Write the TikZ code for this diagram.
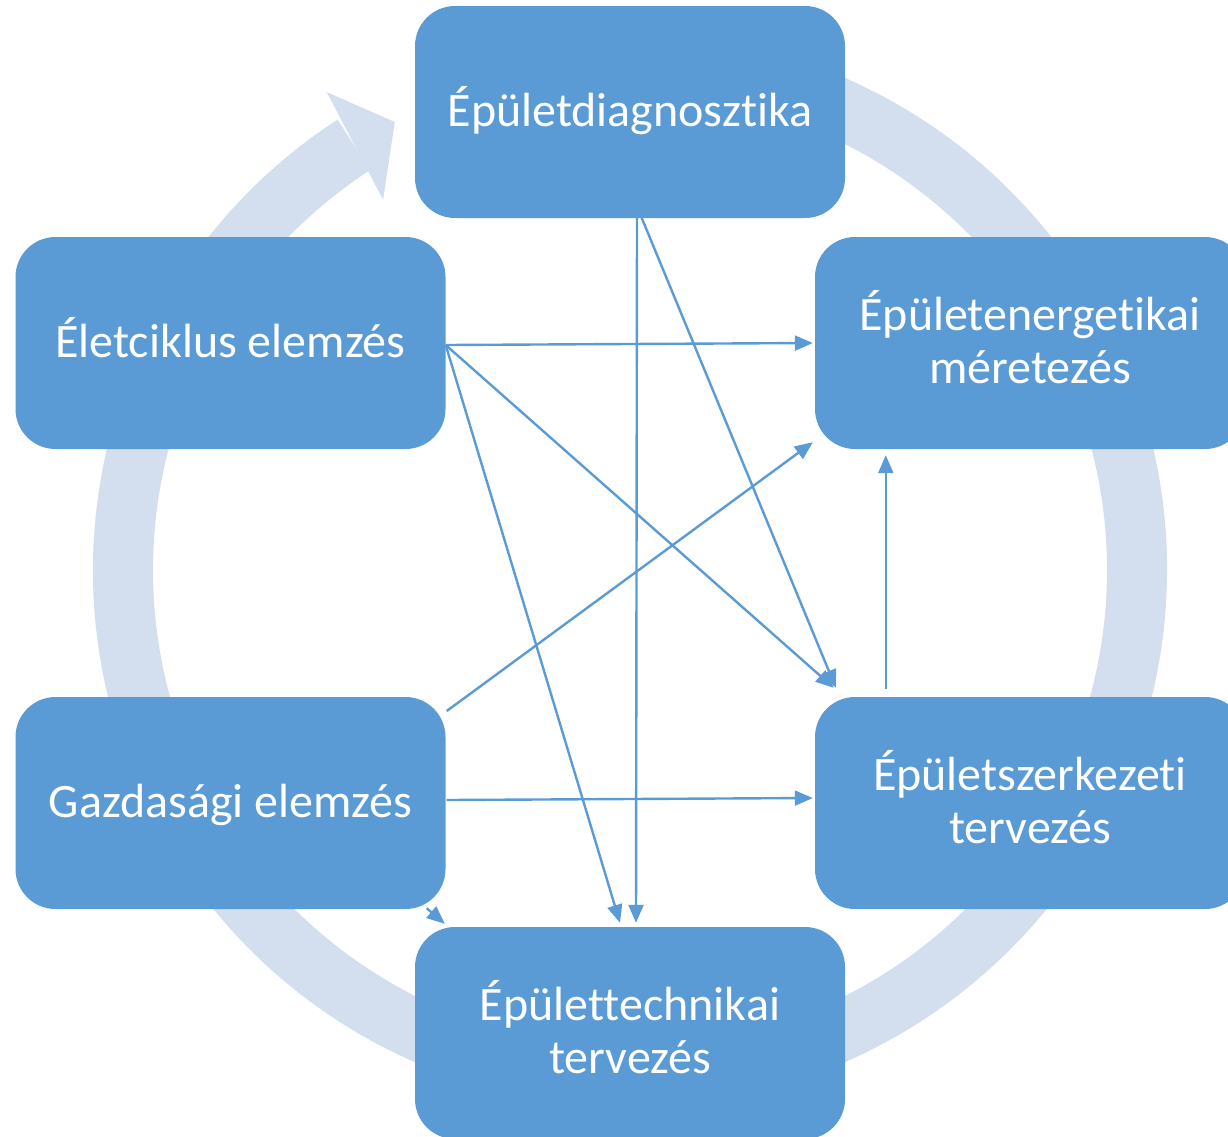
\documentclass[tikz,border=0pt]{standalone}
\usepackage{fontspec}
\setmainfont{Carlito}[Ligatures=NoCommon]
\usetikzlibrary{arrows.meta}
\definecolor{boxblue}{RGB}{91,155,213}
\definecolor{ringblue}{RGB}{211,222,239}
\newcommand\topstrut{\rule[-15.9pt]{0pt}{60pt}}
\newcommand\botstrut{\rule[-15.9pt]{0pt}{15.9pt}}
\begin{document}
\begin{tikzpicture}[x=1pt,y=-1pt,
  box/.style={fill=boxblue, draw=none, rounded corners=40pt, minimum width=430pt, minimum height=212pt,
    text=white, align=center, font=\fontsize{48}{53}\selectfont, inner sep=0pt},
  conn/.style={draw=boxblue, line width=2.4pt, -{Triangle[length=18pt,width=15pt]}}]
\useasboundingbox (0,0) rectangle (1228,1136);
\clip (0,0) rectangle (1228,1136);
% ring
\begin{scope}[shift={(630,570)}, y=1pt]
  \fill[ringblue] (123:537) arc[start angle=123, end angle=450, radius=537]
     -- (450:477) arc[start angle=450, end angle=123, radius=477] -- cycle;
  \fill[ringblue] (122.4:566) -- (117.7:506) -- (123.7:445) -- cycle;
\end{scope}
% boxes
\node[box] (top) at (630,112) {\topstrut Épületdiagnosztika};
\node[box] (life) at (230.5,343) {\topstrut Életciklus elemzés};
\node[box] (ener) at (1030,343) {\topstrut Épületenergetikai\\méretezés\botstrut};
\node[box] (gazd) at (230.5,803) {\topstrut Gazdasági elemzés};
\node[box] (szerk) at (1030,803) {\topstrut Épületszerkezeti\\tervezés\botstrut};
\node[box] (tech) at (630,1033) {\topstrut Épülettechnikai\\tervezés\botstrut};
% connectors
\draw[conn] ([yshift=-2]life.east) -- ([xshift=-2]ener.west);
\draw[conn] ([yshift=-2]life.east) -- ([shift={(19,-9)}]szerk.north west);
\draw[conn] ([yshift=-2]life.east) -- ([shift={(-10,-4)}]tech.north);
\draw[conn] ([xshift=7,yshift=2]top.south) -- ([shift={(6,-4)}]tech.north);
\draw[conn] ([xshift=11,yshift=2]top.south) -- ([shift={(21,-9)}]szerk.north west);
\draw[conn] ([shift={(1,-92)}]gazd.east) -- ([shift={(-2,-7)}]ener.south west);
\draw[conn] ([shift={(1,-3)}]gazd.east) -- ([shift={(-2,-5)}]szerk.west);
\draw[conn] ([shift={(-19,-1)}]gazd.south east) -- ([shift={(30,-3)}]tech.north west);
\draw[conn] ([shift={(71,-8)}]szerk.north west) -- ([shift={(71,6)}]ener.south west);
\end{tikzpicture}
\end{document}
